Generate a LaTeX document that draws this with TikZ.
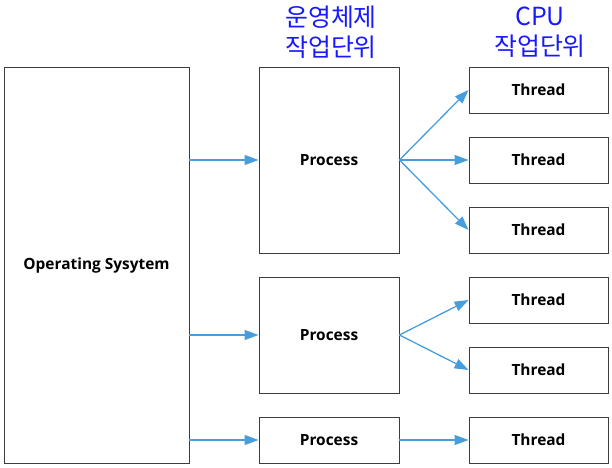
\documentclass[tikz,border=0pt]{standalone}
\usepackage{fontspec}
\setmainfont{Open Sans}
\newfontfamily\krfont{Noto Sans CJK KR}
\usetikzlibrary{arrows.meta}
\definecolor{arrowblue}{RGB}{72,158,220}
\definecolor{hdrblue}{RGB}{25,25,255}
\definecolor{boxgray}{RGB}{60,60,60}
\begin{document}
\begin{tikzpicture}[x=1bp,y=-1bp,
  box/.style={draw=boxgray, line width=0.9bp, fill=white, inner sep=0pt,
    font=\bfseries\fontsize{15.5}{18}\selectfont},
  threadbox/.style={box, minimum width=139bp, minimum height=46bp},
  conn/.style={draw=arrowblue, line width=1.3bp, -{Triangle[length=14bp,width=10bp]}},
  hdr/.style={text=hdrblue, align=center, inner sep=0pt,
    font=\krfont\fontsize{25}{30}\selectfont}]
\useasboundingbox (0,0) rectangle (612,468);
\node[box, minimum width=185bp, minimum height=396bp] (os) at (96.5,265) {Operating Sysytem};
\node[box, minimum width=140bp, minimum height=186bp] (p1) at (329,160) {Process};
\node[box, minimum width=140bp, minimum height=116bp] (p2) at (329,335) {Process};
\node[box, minimum width=140bp, minimum height=46bp] (p3) at (329,440) {Process};
\node[threadbox] (t1) at (538.5,90) {Thread};
\node[threadbox] (t2) at (538.5,160) {Thread};
\node[threadbox] (t3) at (538.5,230) {Thread};
\node[threadbox] (t4) at (538.5,300) {Thread};
\node[threadbox] (t5) at (538.5,370) {Thread};
\node[threadbox] (t6) at (538.5,440) {Thread};
\node[hdr] (h1) at (331,32) {운영체제\\작업단위};
\node[hdr] (h2) at (540,32) {CPU\\작업단위};
\draw[conn] (os.east |- p1.west) -- (p1.west);
\draw[conn] (os.east |- p2.west) -- (p2.west);
\draw[conn] (os.east |- p3.west) -- (p3.west);
\draw[conn] (p1.east) -- (t1.west);
\draw[conn] (p1.east) -- (t2.west);
\draw[conn] (p1.east) -- (t3.west);
\draw[conn] (p2.east) -- (t4.west);
\draw[conn] (p2.east) -- (t5.west);
\draw[conn] (p3.east) -- (t6.west);
\end{tikzpicture}
\end{document}
